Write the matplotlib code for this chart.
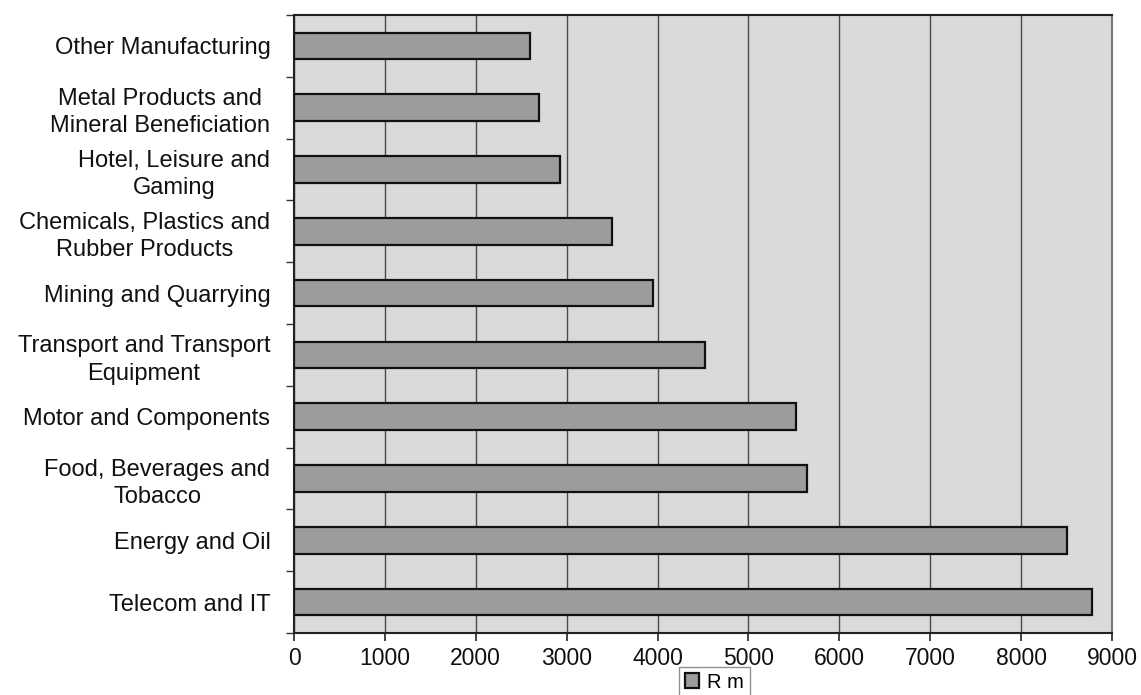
import numpy as np
import matplotlib
matplotlib.use("Agg")
import matplotlib.pyplot as plt
from matplotlib.ticker import MultipleLocator

# ---------------------------------------------------------------------------
# Data (top of chart first)
# ---------------------------------------------------------------------------
SECTORS = [
    "Other Manufacturing",
    "Metal Products and\nMineral Beneficiation",
    "Hotel, Leisure and\nGaming",
    "Chemicals, Plastics and\nRubber Products",
    "Mining and Quarrying",
    "Transport and Transport\nEquipment",
    "Motor and Components",
    "Food, Beverages and\nTobacco",
    "Energy and Oil",
    "Telecom and IT",
]
VALUES_RM = [2600, 2700, 2930, 3500, 3950, 4520, 5520, 5640, 8500, 8780]
SERIES_NAME = "R m"

plt.rcParams["font.family"] = ["Liberation Sans", "DejaVu Sans"]

fig = plt.figure(figsize=(11.41, 6.95), dpi=100)
ax = fig.add_axes([0.2577, 0.0892, 0.7169, 0.8892])

n = len(SECTORS)
ypos = np.arange(n)[::-1]          # first sector at the top

ax.set_facecolor("#dadada")
ax.barh(ypos, VALUES_RM, height=0.43, color="#9c9c9c", edgecolor="#111111",
        linewidth=1.6, label=SERIES_NAME, zorder=3)

ax.set_xlim(0, 9000)
ax.set_ylim(-0.5, n - 0.5)
ax.xaxis.set_major_locator(MultipleLocator(1000))
ax.grid(axis="x", color="#4a4a4a", linewidth=1.0, zorder=1)

ax.set_yticks(ypos)
ax.set_yticklabels(SECTORS, multialignment="center", linespacing=1.3)
ax.set_yticks(np.arange(-0.5, n, 1.0), minor=True)
ax.tick_params(axis="y", which="major", length=0, pad=17, labelsize=17,
               labelcolor="#111111")
ax.tick_params(axis="y", which="minor", length=6, width=1.0, color="#333333")
ax.tick_params(axis="x", length=6, width=1.2, color="#222222", pad=4,
               labelsize=16.5, labelcolor="#111111")

for side in ["left", "bottom", "top"]:
    ax.spines[side].set_color("#222222")
    ax.spines[side].set_linewidth(1.5)
ax.spines["right"].set_color("#777777")
ax.spines["right"].set_linewidth(1.5)

leg = fig.legend(loc="upper center", bbox_to_anchor=(0.626, 0.041),
                 fontsize=14.5, frameon=True, fancybox=False, shadow=False,
                 handlelength=0.7, handleheight=0.7, handletextpad=0.4,
                 borderpad=0.3, borderaxespad=0)
leg.get_frame().set_edgecolor("#777777")
leg.get_frame().set_linewidth(1.0)

fig.savefig("out.png", dpi=100, facecolor="white")
